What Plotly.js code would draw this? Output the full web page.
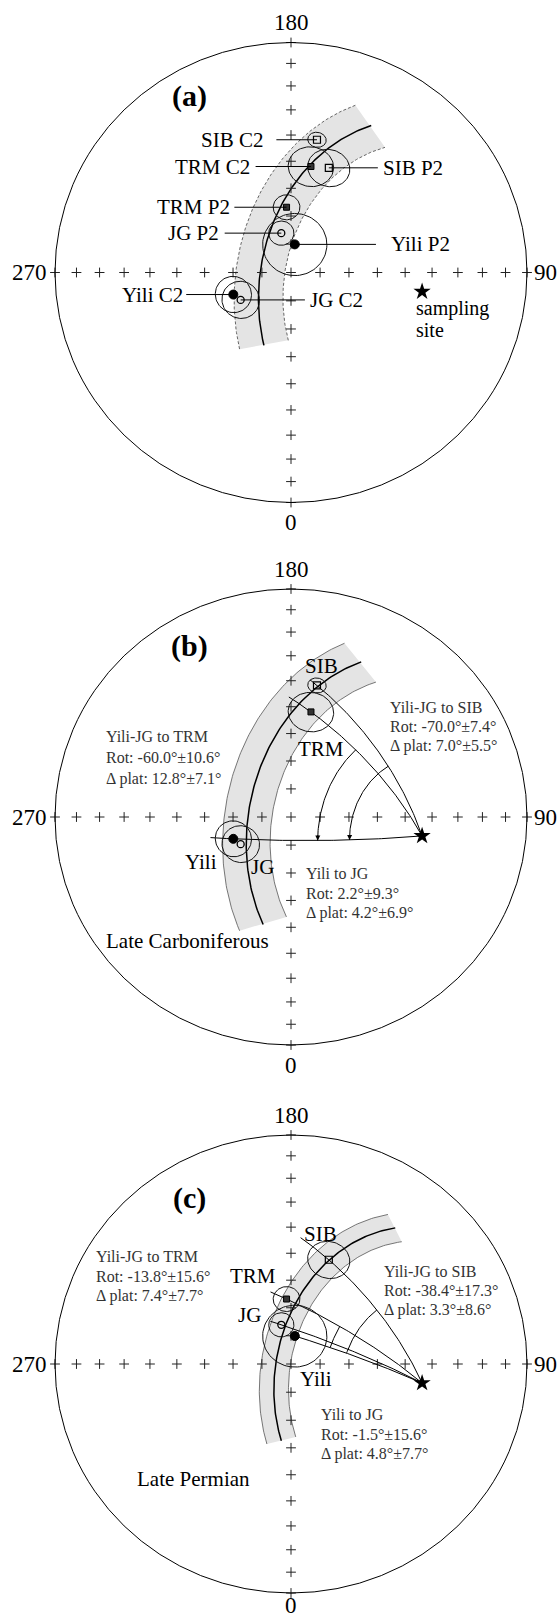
<!DOCTYPE html>
<html><head><meta charset="utf-8">
<script src="https://cdn.plot.ly/plotly-3.0.1.min.js"></script>
<style>html,body{margin:0;padding:0;background:#fff}#chart{width:559px;height:1618px}</style>
</head><body><div id="chart"></div>
<script>
// ================= DATA =================
// sampling site (lon E, lat N)
const siteLon = 81.5;
const siteLat = 43.2;
// paleopoles
const poleNames = ['Yili C2','JG C2','TRM C2','SIB C2','Yili P2','JG P2','TRM P2','SIB P2'];
const poleBlock = ['Yili','JG','TRM','SIB','Yili','JG','TRM','SIB'];
const poleLon   = [291.4, 299.2, 169.6, 169.2, 172.5, 193.5, 183.8, 160.6];
const poleLat   = [68.6, 70.1, 51.3, 40.9, 80.0, 75.7, 66.8, 50.1];
const poleA95   = [6.3, 6.5, 7.4, 2.9, 11.0, 4.3, 4.5, 6.9];
// reference small circles (expected paleo-colatitude band) for panels a, b, c
const bandRadius    = [57.3, 61.5, 52.0];
const bandHalfWidth = [8.4, 8.2, 5.0];
const bandBearing0  = [-80, -79, -87];
const bandBearing1  = [32.6, 47, 36];
// rotation / flattening results
const rotPairs  = ['Yili-JG to TRM', 'Yili-JG to SIB', 'Yili to JG'];
const rotC2     = ['-60.0°±10.6°', '-70.0°±7.4°', '2.2°±9.3°'];
const dplatC2   = ['12.8°±7.1°', '7.0°±5.5°', '4.2°±6.9°'];
const rotP2     = ['-13.8°±15.6°', '-38.4°±17.3°', '-1.5°±15.6°'];
const dplatP2   = ['7.4°±7.7°', '3.3°±8.6°', '4.8°±7.7°'];
const periodNames = ['Late Carboniferous', 'Late Permian'];
// graticule ticks (colatitude, deg) and direction labels
const tickColat = [0, 10, 20, 30, 40, 50, 60, 70, 80, 90];
const dirLabels = ['0', '90', '180', '270'];

// ================= GEOMETRY =================
const D = Math.PI / 180;
const dot = (a, b) => a[0]*b[0] + a[1]*b[1] + a[2]*b[2];
const cross = (a, b) => [a[1]*b[2]-a[2]*b[1], a[2]*b[0]-a[0]*b[2], a[0]*b[1]-a[1]*b[0]];
const lin = (p, a, q, b) => [p*a[0]+q*b[0], p*a[1]+q*b[1], p*a[2]+q*b[2]];
const unit = a => { const n = Math.hypot(a[0], a[1], a[2]); return [a[0]/n, a[1]/n, a[2]/n]; };
function vec(lon, lat) { const c = (90-lat)*D, l = lon*D; return [Math.sin(c)*Math.sin(l), -Math.sin(c)*Math.cos(l), Math.cos(c)]; }
function proj(v) { // Lambert equal-area, unit radius at colat 90
  const c = Math.acos(Math.max(-1, Math.min(1, v[2])));
  const s = Math.hypot(v[0], v[1]);
  if (s < 1e-12) return [0, 0];
  const r = Math.SQRT2 * Math.sin(c/2);
  return [r*v[0]/s, r*v[1]/s];
}
function basis(C) { let t = lin(1, [0,0,1], -C[2], C); if (Math.hypot(t[0],t[1],t[2]) < 1e-9) t = [0,-1,0]; const e1 = unit(t); return [e1, cross(C, e1)]; }
function bearing(C, P) { const [e1, e2] = basis(C); const t = lin(1, P, -dot(P, C), C); return Math.atan2(dot(t, e2), dot(t, e1)) / D; }
function smallCircle(C, rho, b0, b1, n) {
  const [e1, e2] = basis(C); const xs = [], ys = [];
  for (let i = 0; i <= n; i++) {
    const b = (b0 + (b1-b0)*i/n) * D;
    const dir = lin(Math.cos(b), e1, Math.sin(b), e2);
    const p = proj(lin(Math.cos(rho*D), C, Math.sin(rho*D), dir));
    xs.push(p[0]); ys.push(p[1]);
  }
  return [xs, ys];
}
function greatArc(A, B, ext, n) {
  const om = Math.acos(dot(A, B)); const tMax = (om + ext*D) / om; const xs = [], ys = [];
  for (let i = 0; i <= n; i++) {
    const t = tMax*i/n;
    const p = proj(lin(Math.sin((1-t)*om)/Math.sin(om), A, Math.sin(t*om)/Math.sin(om), B));
    xs.push(p[0]); ys.push(p[1]);
  }
  return [xs, ys];
}

// ================= LAYOUT CONFIG =================
const W = 559, H = 1618;
const CX = 291, RX = 236;
const panelPx = [ {top: 0, bottom: 546, cy: 272.5, ry: 230},
                  {top: 546, bottom: 1090, cy: 817, ry: 228},
                  {top: 1090, bottom: 1618, cy: 1364, ry: 229} ];
const SERIF = 'Liberation Serif, Times New Roman, serif';
const markerStyle = {
  Yili: {symbol: 'circle', size: 9, color: '#000', line: {color: '#000', width: 1}},
  JG:   {symbol: 'circle-open', size: 7, color: '#000', line: {color: '#000', width: 1.3}},
  TRM:  {symbol: 'square', size: 6, color: '#333', line: {color: '#000', width: 1}},
  SIB:  {symbol: 'square-open', size: 7, color: '#000', line: {color: '#000', width: 1.2}}
};
const panels = [
  { poles: [0,1,2,3,4,5,6,7], band: 0, dashed: true, tag: '(a)', tagPos: [-0.428, 0.766], zeroY: -1.085,
    leaders: [ {p:3, side:'L', edge:-0.111, end:-0.062}, {p:2, side:'L', edge:-0.165, end:-0.150},
               {p:7, side:'R', edge:0.383, end:0.368},  {p:6, side:'L', edge:-0.250, end:-0.240},
               {p:5, side:'L', edge:-0.297, end:-0.281}, {p:4, side:'R', edge:0.414, end:0.360},
               {p:0, side:'L', edge:-0.448, end:-0.444}, {p:1, side:'R', edge:0.072, end:0.059} ] },
  { poles: [0,1,2,3], band: 1, dashed: false, tag: '(b)', tagPos: [-0.428, 0.748], zeroY: -1.09,
    lines: [ {p:3, ext:3}, {p:2, ext:9}, {p:0, ext:8} ],
    arcs: [ {from:0, to:2, rho:37, arrow:true}, {from:0, to:3, rho:26, arrow:true} ],
    names: [ {p:3, x:0.128, y:0.664}, {p:2, x:0.128, y:0.298}, {p:0, x:-0.382, y:-0.198}, {p:1, x:-0.119, y:-0.221} ],
    rot: rotC2, dplat: dplatC2, blocks: [ {x:-0.791, y:[0.351,0.260,0.168]}, {x:0.411, y:[0.481,0.397,0.310]}, {x:0.056, y:[-0.247,-0.336,-0.420]} ],
    period: periodNames[0], periodPos: {x:-0.791, y:-0.542, anchor:'left'} },
  { poles: [4,5,6,7], band: 2, dashed: false, tag: '(c)', tagPos: [-0.429, 0.724], zeroY: -1.055,
    lines: [ {p:7, ext:12}, {p:6, ext:6}, {p:4, ext:0}, {p:5, ext:4} ],
    arcs: [ {from:4, to:6, rho:35, arrow:false}, {from:4, to:7, rho:29, arrow:false} ],
    names: [ {p:7, x:0.127, y:0.569}, {p:6, x:-0.162, y:0.383}, {p:5, x:-0.176, y:0.212}, {p:4, x:0.105, y:-0.067} ],
    rot: rotP2, dplat: dplatP2, blocks: [ {x:-0.834, y:[0.468,0.383,0.298]}, {x:0.387, y:[0.406,0.321,0.236]}, {x:0.12, y:[-0.222,-0.307,-0.392]} ],
    period: periodNames[1], periodPos: {x:-0.415, y:-0.50, anchor:'center'} }
];

// ================= BUILD =================
const S = vec(siteLon, siteLat);
const Sxy = proj(S);
const traces = [], annotations = [], shapes = [];
const layout = { width: W, height: H, margin: {l:0, r:0, t:0, b:0}, paper_bgcolor: '#fff', plot_bgcolor: 'rgba(0,0,0,0)', showlegend: false };

panels.forEach((pn, k) => {
  const sx = k === 0 ? '' : String(k+1);
  const xa = 'x' + sx, ya = 'y' + sx;
  const px = panelPx[k];
  layout['xaxis' + sx] = { domain: [0, 1], range: [-CX/RX, (W-CX)/RX], visible: false, fixedrange: true, anchor: ya };
  layout['yaxis' + sx] = { domain: [1 - px.bottom/H, 1 - px.top/H], range: [(px.cy - px.bottom)/px.ry, (px.cy - px.top)/px.ry], visible: false, fixedrange: true, anchor: xa };
  const base = {xaxis: xa, yaxis: ya, hoverinfo: 'skip', showlegend: false};

  // band
  const bi = pn.band;
  const outer = smallCircle(S, bandRadius[bi] + bandHalfWidth[bi], bandBearing0[bi], bandBearing1[bi], 120);
  const inner = smallCircle(S, bandRadius[bi] - bandHalfWidth[bi], bandBearing1[bi], bandBearing0[bi], 120);
  traces.push(Object.assign({type: 'scatter', mode: 'lines', x: outer[0].concat(inner[0], [outer[0][0]]), y: outer[1].concat(inner[1], [outer[1][0]]),
    fill: 'toself', fillcolor: '#e4e4e4', line: {width: 0, color: 'rgba(0,0,0,0)'}}, base));
  [outer, inner].forEach(e => traces.push(Object.assign({type: 'scatter', mode: 'lines', x: e[0], y: e[1],
    line: pn.dashed ? {color: '#666', width: 1, dash: '3px,2px'} : {color: '#555', width: 0.8}}, base)));
  const mid = smallCircle(S, bandRadius[bi], bandBearing0[bi], bandBearing1[bi], 120);
  traces.push(Object.assign({type: 'scatter', mode: 'lines', x: mid[0], y: mid[1], line: {color: '#000', width: 1.5}}, base));

  // graticule crosses
  const tx = [], ty = [];
  tickColat.forEach(c => {
    const r = Math.SQRT2 * Math.sin(c*D/2);
    if (c === 0) { tx.push(0); ty.push(0); return; }
    tx.push(r, -r, 0, 0); ty.push(0, 0, r, -r);
  });
  traces.push(Object.assign({type: 'scatter', mode: 'markers', x: tx, y: ty,
    marker: {symbol: 'cross-thin', size: 7, line: {color: '#222', width: 1}}}, base));

  // primitive circle
  shapes.push({type: 'circle', xref: xa, yref: ya, x0: -1, x1: 1, y0: -1, y1: 1, line: {color: '#000', width: 1}});

  // direction labels
  const dl = [ {t: dirLabels[2], x: 0, y: 1.085, xa: 'center'}, {t: dirLabels[0], x: 0, y: pn.zeroY, xa: 'center'},
               {t: dirLabels[3], x: -1.025, y: 0, xa: 'right'}, {t: dirLabels[1], x: 1.02, y: 0, xa: 'left'} ];
  dl.forEach(d => annotations.push({xref: xa, yref: ya, x: d.x, y: d.y, text: d.t, showarrow: false, xanchor: d.xa, yanchor: 'middle',
    font: {family: SERIF, size: 23, color: '#000'}}));

  // great circle lines from site through poles
  (pn.lines || []).forEach(l => {
    const g = greatArc(S, vec(poleLon[l.p], poleLat[l.p]), l.ext, 80);
    traces.push(Object.assign({type: 'scatter', mode: 'lines', x: g[0], y: g[1], line: {color: '#000', width: 1}}, base));
  });
  // rotation arcs around site
  (pn.arcs || []).forEach(a => {
    const b0 = bearing(S, vec(poleLon[a.from], poleLat[a.from]));
    const b1 = bearing(S, vec(poleLon[a.to], poleLat[a.to]));
    const arc = smallCircle(S, a.rho, b1, b0, 60);
    traces.push(Object.assign({type: 'scatter', mode: 'lines', x: arc[0], y: arc[1], line: {color: '#000', width: 1}}, base));
    if (a.arrow) {
      const tail = smallCircle(S, a.rho, b0 + (b1 > b0 ? 4 : -4), b0, 1);
      annotations.push({xref: xa, yref: ya, axref: xa, ayref: ya, x: tail[0][1], y: tail[1][1], ax: tail[0][0], ay: tail[1][0],
        text: '', showarrow: true, arrowhead: 2, arrowsize: 1, arrowwidth: 1, arrowcolor: '#000', standoff: 0});
    }
  });

  // A95 circles and pole markers
  pn.poles.forEach(i => {
    const P = vec(poleLon[i], poleLat[i]);
    const c = smallCircle(P, poleA95[i], 0, 360, 90);
    traces.push(Object.assign({type: 'scatter', mode: 'lines', x: c[0], y: c[1], line: {color: '#111', width: 1}}, base));
  });
  pn.poles.forEach(i => {
    const p = proj(vec(poleLon[i], poleLat[i]));
    traces.push(Object.assign({type: 'scatter', mode: 'markers', x: [p[0]], y: [p[1]], marker: markerStyle[poleBlock[i]]}, base));
  });

  // site star
  traces.push(Object.assign({type: 'scatter', mode: 'markers', x: [Sxy[0]], y: [Sxy[1]], marker: {symbol: 'star', size: 13, color: '#000'}}, base));

  // panel tag
  annotations.push({xref: xa, yref: ya, x: pn.tagPos[0], y: pn.tagPos[1], text: '<b>' + pn.tag + '</b>', showarrow: false,
    font: {family: SERIF, size: 30, color: '#000'}});

  // leaders (panel a)
  (pn.leaders || []).forEach(L => {
    const p = proj(vec(poleLon[L.p], poleLat[L.p]));
    traces.push(Object.assign({type: 'scatter', mode: 'lines', x: [L.end, p[0]], y: [p[1], p[1]], line: {color: '#000', width: 1}}, base));
    annotations.push({xref: xa, yref: ya, x: L.edge, y: p[1], text: poleNames[L.p], showarrow: false,
      xanchor: L.side === 'L' ? 'right' : 'left', yanchor: 'middle', font: {family: SERIF, size: 21, color: '#000'}});
  });
  if (k === 0) {
    annotations.push({xref: xa, yref: ya, x: 0.522, y: -0.156, text: 'sampling', showarrow: false, xanchor: 'left', font: {family: SERIF, size: 20, color: '#000'}});
    annotations.push({xref: xa, yref: ya, x: 0.522, y: -0.249, text: 'site', showarrow: false, xanchor: 'left', font: {family: SERIF, size: 20, color: '#000'}});
  }
  // block names (b, c)
  (pn.names || []).forEach(n => annotations.push({xref: xa, yref: ya, x: n.x, y: n.y, text: poleBlock[n.p], showarrow: false,
    font: {family: SERIF, size: 21, color: '#000'}}));
  // result text blocks
  (pn.blocks || []).forEach((b, j) => {
    const lines = [rotPairs[j], 'Rot: ' + pn.rot[j], 'Δ plat: ' + pn.dplat[j]];
    lines.forEach((t, m) => annotations.push({xref: xa, yref: ya, x: b.x, y: b.y[m], text: t, showarrow: false, xanchor: 'left', yanchor: 'middle',
      font: {family: SERIF, size: 16, color: '#333'}}));
  });
  if (pn.period) annotations.push({xref: xa, yref: ya, x: pn.periodPos.x, y: pn.periodPos.y, text: pn.period, showarrow: false,
    xanchor: pn.periodPos.anchor, yanchor: 'middle', font: {family: SERIF, size: 21, color: '#000'}});
});

layout.annotations = annotations;
layout.shapes = shapes;
Plotly.newPlot('chart', traces, layout, {staticPlot: true, displayModeBar: false});
</script>
</body></html>
